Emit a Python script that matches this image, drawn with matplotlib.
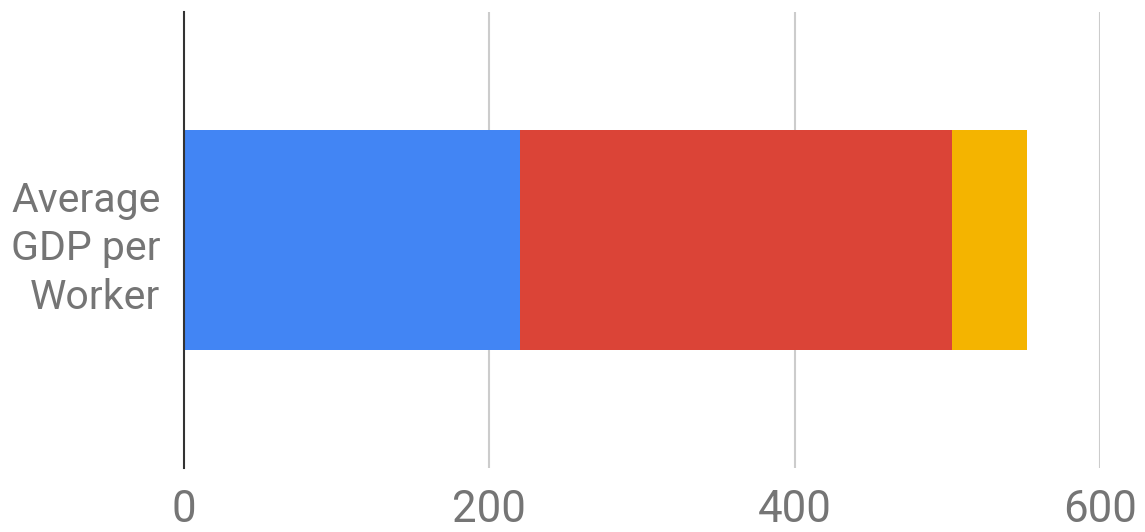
import matplotlib
matplotlib.use('Agg')
import matplotlib.pyplot as plt

category = 'Average\nGDP per\nWorker'
segments = [220, 283, 49]
colors = ['#4285f4', '#db4437', '#f4b400']
xticks = [0, 200, 400, 600]

W, H = 1145, 532
fig = plt.figure(figsize=(W / 100, H / 100), dpi=100)
ax = fig.add_axes([184 / W, 1 - 468 / H, (1100 - 184) / W, (468 - 12) / H])

left = 0
for val, col in zip(segments, colors):
    ax.barh(0, val, left=left, height=0.482, color=col, zorder=2)
    left += val

ax.set_xlim(0, 600)
ax.set_ylim(-0.5, 0.5)
ax.set_xticks(xticks)
ax.set_xticklabels([str(t) for t in xticks], fontfamily='Roboto', fontsize=31.5, color='#757575')
ax.tick_params(axis='x', length=0, pad=15)
ax.set_yticks([0])
ax.set_yticklabels([category], fontfamily='Roboto', fontsize=29.5, color='#757575',
                   linespacing=1.32, ha='right')
ax.tick_params(axis='y', length=0, pad=17)

for t in xticks[1:]:
    ax.axvline(t, color='#cccccc', lw=1.5, zorder=1)
for s in ['top', 'right', 'bottom']:
    ax.spines[s].set_visible(False)
ax.spines['left'].set_color('#333333')
ax.spines['left'].set_linewidth(1.5)
ax.spines['left'].set_zorder(3)

fig.savefig('out.png', dpi=100)
